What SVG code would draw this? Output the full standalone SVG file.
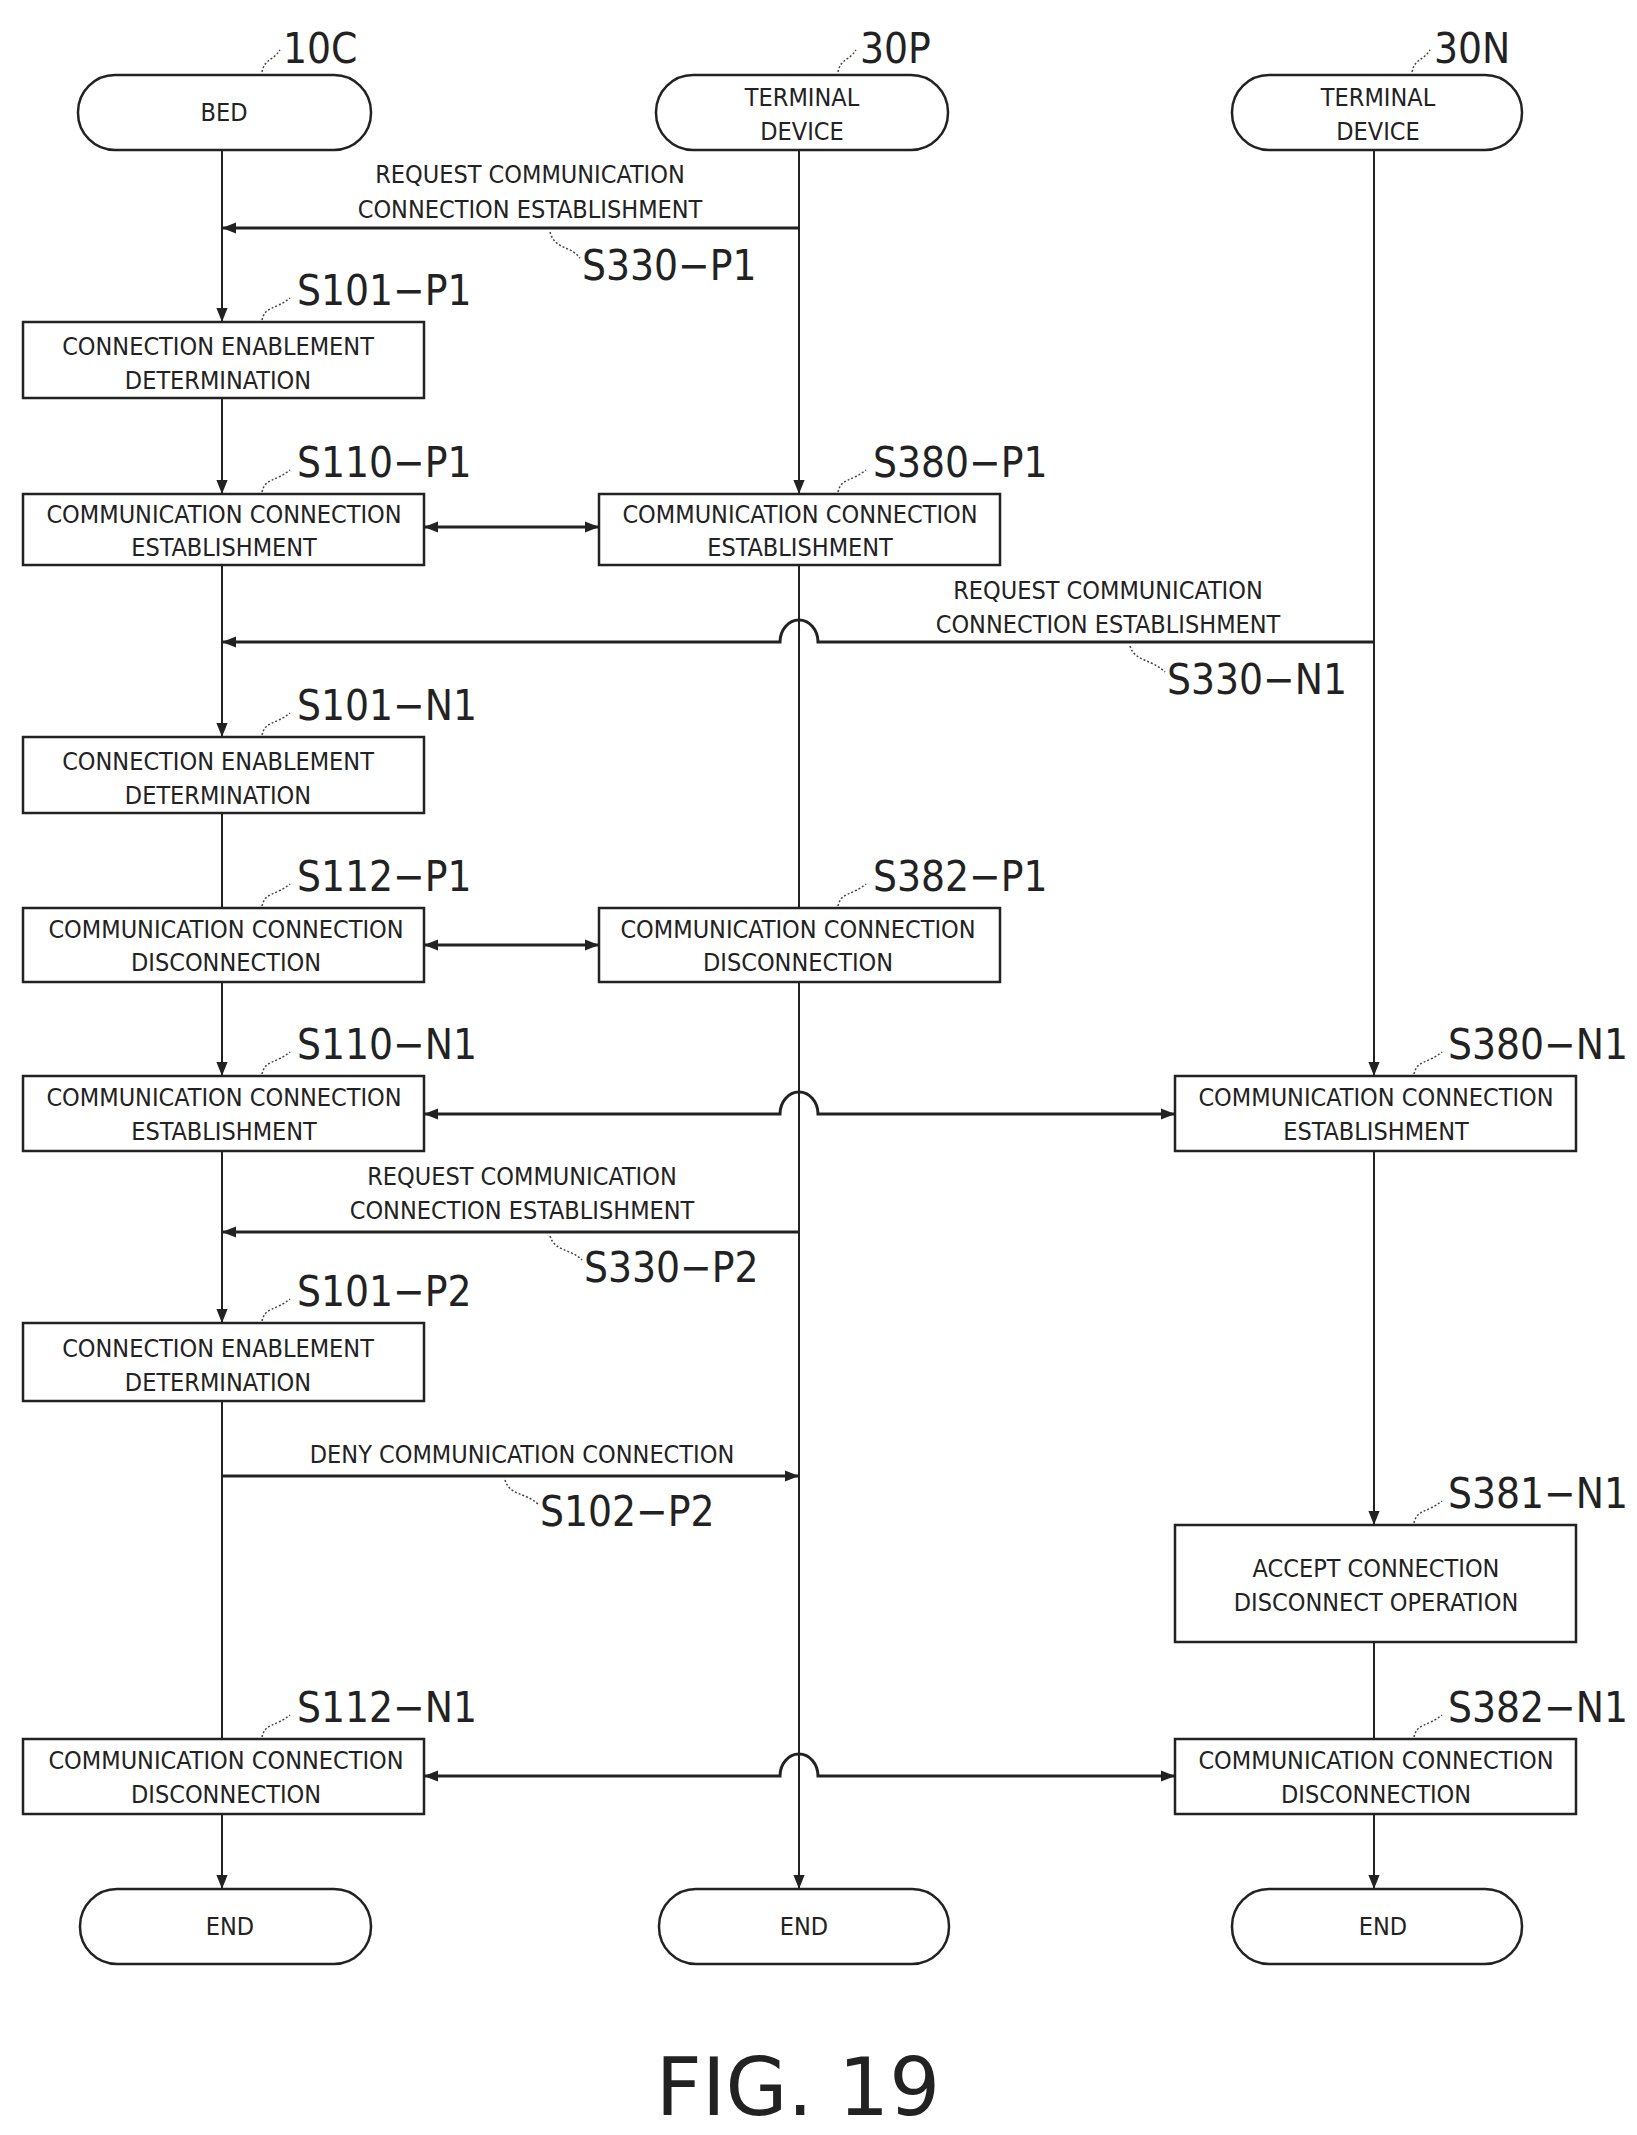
<svg xmlns="http://www.w3.org/2000/svg" width="1637" height="2135" viewBox="0 0 1637 2135">
<style>
.b{fill:#fff;stroke:#222;stroke-width:2.5}
.t{font-family:"DejaVu Sans Condensed","Liberation Sans Narrow",sans-serif;font-size:25px;fill:#222;text-anchor:middle}
.l{font-family:"DejaVu Sans Condensed","Liberation Sans Narrow",sans-serif;font-size:42px;fill:#222}
.ln{fill:none;stroke:#222;stroke-width:2}
.th{fill:none;stroke:#222;stroke-width:3}
.ld{fill:none;stroke:#444;stroke-width:1.5;stroke-dasharray:2 2}
</style>
<defs>
<marker id="a" viewBox="0 0 10 10" refX="10" refY="5" markerWidth="10" markerHeight="10" markerUnits="userSpaceOnUse" orient="auto-start-reverse"><path d="M0,1 L10,5 L0,9 Z" fill="#222"/></marker>
<marker id="A" viewBox="0 0 10 10" refX="10" refY="5" markerWidth="16" markerHeight="14" markerUnits="userSpaceOnUse" orient="auto-start-reverse"><path d="M0,1 L10,5 L0,9 Z" fill="#222"/></marker>
</defs>
<g id="connectors">
<path class="ln" d="M222,150 V322" marker-end="url(#A)"/>
<path class="ln" d="M222,398 V494" marker-end="url(#A)"/>
<path class="ln" d="M222,565 V737" marker-end="url(#A)"/>
<path class="ln" d="M222,813 V908"/>
<path class="ln" d="M222,982 V1076" marker-end="url(#A)"/>
<path class="ln" d="M222,1151 V1323" marker-end="url(#A)"/>
<path class="ln" d="M222,1401 V1739"/>
<path class="ln" d="M222,1814 V1889" marker-end="url(#A)"/>
<path class="ln" d="M799,150 V494" marker-end="url(#A)"/>
<path class="ln" d="M799,565 V908"/>
<path class="ln" d="M799,982 V1889" marker-end="url(#A)"/>
<path class="ln" d="M1374,150 V1076" marker-end="url(#A)"/>
<path class="ln" d="M1374,1151 V1525" marker-end="url(#A)"/>
<path class="ln" d="M1374,1642 V1739"/>
<path class="ln" d="M1374,1814 V1889" marker-end="url(#A)"/>
<path class="th" d="M799,228 H222" marker-end="url(#A)"/>
<path class="th" d="M424,527 H599" marker-start="url(#A)" marker-end="url(#A)"/>
<path class="th" d="M1374,642 H818 A19,22 0 0 0 780,642 H222" marker-end="url(#A)"/>
<path class="th" d="M424,945 H599" marker-start="url(#A)" marker-end="url(#A)"/>
<path class="th" d="M424,1114 H780 A19,22 0 0 1 818,1114 H1175" marker-start="url(#A)" marker-end="url(#A)"/>
<path class="th" d="M799,1232 H222" marker-end="url(#A)"/>
<path class="th" d="M222,1476 H799" marker-end="url(#A)"/>
<path class="th" d="M424,1776 H780 A19,22 0 0 1 818,1776 H1175" marker-start="url(#A)" marker-end="url(#A)"/>
<text class="t" x="530" y="183">REQUEST COMMUNICATION</text>
<text class="t" x="530" y="218">CONNECTION ESTABLISHMENT</text>
<text class="t" x="1108" y="599">REQUEST COMMUNICATION</text>
<text class="t" x="1108" y="633">CONNECTION ESTABLISHMENT</text>
<text class="t" x="522" y="1185">REQUEST COMMUNICATION</text>
<text class="t" x="522" y="1219">CONNECTION ESTABLISHMENT</text>
<text class="t" x="522" y="1463">DENY COMMUNICATION CONNECTION</text>
<path class="ld" d="M550,232 C555,250 570,245 580,258"/>
<text class="l" x="582" y="280">S330−P1</text>
<path class="ld" d="M1130,646 C1135,662 1150,658 1165,672"/>
<text class="l" x="1167" y="694">S330−N1</text>
<path class="ld" d="M550,1236 C555,1252 570,1248 582,1260"/>
<text class="l" x="584" y="1282">S330−P2</text>
<path class="ld" d="M505,1480 C510,1496 525,1492 538,1504"/>
<text class="l" x="540" y="1526">S102−P2</text>
</g>
<g id="n10C"><rect class="b" x="78" y="75" width="293" height="75" rx="37"/><text class="t" x="224" y="121">BED</text>
<path class="ld" d="M262,72 C265,58 272,62 280,50"/><text class="l" x="283" y="63">10C</text></g>
<g id="n30P"><rect class="b" x="656" y="75" width="292" height="75" rx="37"/><text class="t" x="802" y="106">TERMINAL</text><text class="t" x="802" y="140">DEVICE</text>
<path class="ld" d="M838,72 C841,58 848,62 856,50"/><text class="l" x="860" y="63">30P</text></g>
<g id="n30N"><rect class="b" x="1232" y="75" width="290" height="75" rx="37"/><text class="t" x="1378" y="106">TERMINAL</text><text class="t" x="1378" y="140">DEVICE</text>
<path class="ld" d="M1412,72 C1415,58 1422,62 1430,50"/><text class="l" x="1434" y="63">30N</text></g>
<g id="s101p1"><rect class="b" x="23" y="322" width="401" height="76"/><text class="t" x="218" y="355">CONNECTION ENABLEMENT</text><text class="t" x="218" y="389">DETERMINATION</text>
<path class="ld" d="M262,320 C265,306 275,310 290,298"/><text class="l" x="297" y="305">S101−P1</text></g>
<g id="s110p1"><rect class="b" x="23" y="494" width="401" height="71"/><text class="t" x="224" y="523">COMMUNICATION CONNECTION</text><text class="t" x="224" y="556">ESTABLISHMENT</text>
<path class="ld" d="M262,492 C265,478 275,482 290,470"/><text class="l" x="297" y="477">S110−P1</text></g>
<g id="s380p1"><rect class="b" x="599" y="494" width="401" height="71"/><text class="t" x="800" y="523">COMMUNICATION CONNECTION</text><text class="t" x="800" y="556">ESTABLISHMENT</text>
<path class="ld" d="M838,492 C841,478 851,482 866,470"/><text class="l" x="873" y="477">S380−P1</text></g>
<g id="s101n1"><rect class="b" x="23" y="737" width="401" height="76"/><text class="t" x="218" y="770">CONNECTION ENABLEMENT</text><text class="t" x="218" y="804">DETERMINATION</text>
<path class="ld" d="M262,735 C265,721 275,725 290,713"/><text class="l" x="297" y="720">S101−N1</text></g>
<g id="s112p1"><rect class="b" x="23" y="908" width="401" height="74"/><text class="t" x="226" y="938">COMMUNICATION CONNECTION</text><text class="t" x="226" y="971">DISCONNECTION</text>
<path class="ld" d="M262,906 C265,892 275,896 290,884"/><text class="l" x="297" y="891">S112−P1</text></g>
<g id="s382p1"><rect class="b" x="599" y="908" width="401" height="74"/><text class="t" x="798" y="938">COMMUNICATION CONNECTION</text><text class="t" x="798" y="971">DISCONNECTION</text>
<path class="ld" d="M838,906 C841,892 851,896 866,884"/><text class="l" x="873" y="891">S382−P1</text></g>
<g id="s110n1"><rect class="b" x="23" y="1076" width="401" height="75"/><text class="t" x="224" y="1106">COMMUNICATION CONNECTION</text><text class="t" x="224" y="1140">ESTABLISHMENT</text>
<path class="ld" d="M262,1074 C265,1060 275,1064 290,1052"/><text class="l" x="297" y="1059">S110−N1</text></g>
<g id="s380n1"><rect class="b" x="1175" y="1076" width="401" height="75"/><text class="t" x="1376" y="1106">COMMUNICATION CONNECTION</text><text class="t" x="1376" y="1140">ESTABLISHMENT</text>
<path class="ld" d="M1414,1074 C1417,1060 1427,1064 1442,1052"/><text class="l" x="1448" y="1059">S380−N1</text></g>
<g id="s101p2"><rect class="b" x="23" y="1323" width="401" height="78"/><text class="t" x="218" y="1357">CONNECTION ENABLEMENT</text><text class="t" x="218" y="1391">DETERMINATION</text>
<path class="ld" d="M262,1321 C265,1307 275,1311 290,1299"/><text class="l" x="297" y="1306">S101−P2</text></g>
<g id="s381n1"><rect class="b" x="1175" y="1525" width="401" height="117"/><text class="t" x="1376" y="1577">ACCEPT CONNECTION</text><text class="t" x="1376" y="1611">DISCONNECT OPERATION</text>
<path class="ld" d="M1414,1523 C1417,1509 1427,1513 1442,1501"/><text class="l" x="1448" y="1508">S381−N1</text></g>
<g id="s112n1"><rect class="b" x="23" y="1739" width="401" height="75"/><text class="t" x="226" y="1769">COMMUNICATION CONNECTION</text><text class="t" x="226" y="1803">DISCONNECTION</text>
<path class="ld" d="M262,1737 C265,1723 275,1727 290,1715"/><text class="l" x="297" y="1722">S112−N1</text></g>
<g id="s382n1"><rect class="b" x="1175" y="1739" width="401" height="75"/><text class="t" x="1376" y="1769">COMMUNICATION CONNECTION</text><text class="t" x="1376" y="1803">DISCONNECTION</text>
<path class="ld" d="M1414,1737 C1417,1723 1427,1727 1442,1715"/><text class="l" x="1448" y="1722">S382−N1</text></g>
<g id="end1"><rect class="b" x="80" y="1889" width="291" height="75" rx="37"/><text class="t" x="230" y="1935">END</text></g>
<g id="end2"><rect class="b" x="659" y="1889" width="290" height="75" rx="37"/><text class="t" x="804" y="1935">END</text></g>
<g id="end3"><rect class="b" x="1232" y="1889" width="290" height="75" rx="37"/><text class="t" x="1383" y="1935">END</text></g>
<text x="798" y="2115" style="font-family:'DejaVu Sans',sans-serif;font-size:80px;fill:#222;text-anchor:middle">FIG. 19</text>
</svg>
